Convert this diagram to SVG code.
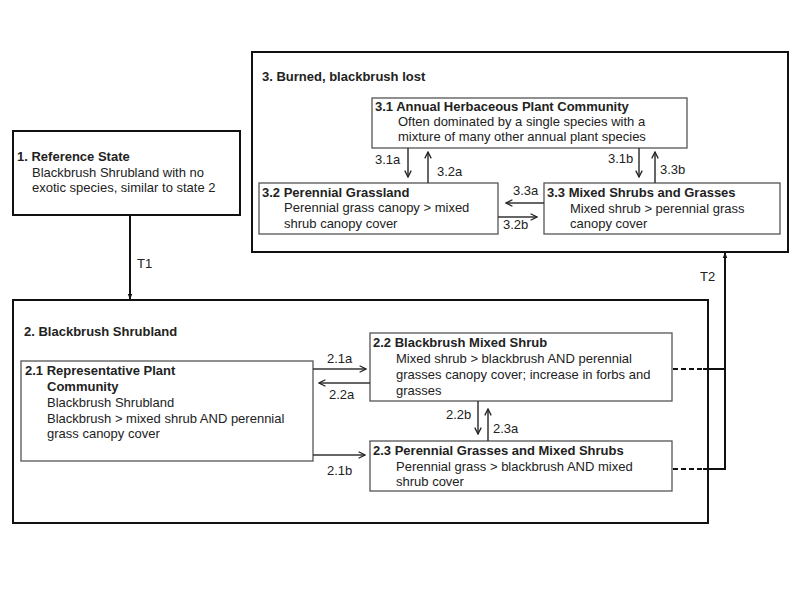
<svg xmlns="http://www.w3.org/2000/svg" width="800" height="600" viewBox="0 0 800 600">
<defs>
<marker id="ah" viewBox="0 0 10 10" refX="9" refY="5" markerWidth="8" markerHeight="8" markerUnits="userSpaceOnUse" orient="auto">
<path d="M1,1 L9,5 L1,9" fill="none" stroke="#222" stroke-width="1.6"/>
</marker>
<marker id="ahs" viewBox="0 0 10 10" refX="9" refY="5" markerWidth="6" markerHeight="6" markerUnits="userSpaceOnUse" orient="auto">
<path d="M0,1 L10,5 L0,9 Z" fill="#111"/>
</marker>
</defs>
<style>
.state{fill:#fff;stroke:#111;stroke-width:2}
.comm{fill:#fff;stroke:#555;stroke-width:1.3}
text{font-family:"Liberation Sans",Arial,sans-serif;font-size:13px;fill:#222}
.b{font-weight:bold}
.c{stroke:#333;stroke-width:1.5;fill:none;marker-end:url(#ah)}
.t{stroke:#111;stroke-width:2;fill:none}
.d{stroke:#111;stroke-width:2;fill:none;stroke-dasharray:5,3}
</style>
<rect width="800" height="600" fill="#fff"/>

<g id="state3">
<rect class="state" x="252" y="52" width="536" height="200"/>
<text class="b" x="262" y="81">3. Burned, blackbrush lost</text>
</g>
<g id="n31">
<rect class="comm" x="372" y="98" width="315" height="50"/>
<text class="b" x="375" y="111">3.1 Annual Herbaceous Plant Community</text>
<text x="398" y="126">Often dominated by a single species with a</text>
<text x="398" y="141">mixture of many other annual plant species</text>
</g>
<g id="n32">
<rect class="comm" x="259" y="183" width="239" height="51"/>
<text class="b" x="262" y="197">3.2 Perennial Grassland</text>
<text x="284" y="212">Perennial grass canopy &gt; mixed</text>
<text x="284" y="228">shrub canopy cover</text>
</g>
<g id="n33">
<rect class="comm" x="544" y="183" width="236" height="51"/>
<text class="b" x="547" y="197">3.3 Mixed Shrubs and Grasses</text>
<text x="570" y="213">Mixed shrub &gt; perennial grass</text>
<text x="570" y="228">canopy cover</text>
</g>

<g id="state1">
<rect class="state" x="13" y="131" width="227" height="84"/>
<text class="b" x="17" y="161">1. Reference State</text>
<text x="32" y="177">Blackbrush Shrubland with no</text>
<text x="32" y="192">exotic species, similar to state 2</text>
</g>

<g id="state2">
<rect class="state" x="13" y="300" width="695" height="223"/>
<text class="b" x="24" y="336">2. Blackbrush Shrubland</text>
</g>
<g id="n21">
<rect class="comm" x="21" y="361" width="292" height="100"/>
<text class="b" x="25" y="375">2.1 Representative Plant</text>
<text class="b" x="47" y="391">Community</text>
<text x="47" y="407">Blackbrush Shrubland</text>
<text x="47" y="423">Blackbrush &gt; mixed shrub AND perennial</text>
<text x="47" y="438">grass canopy cover</text>
</g>
<g id="n22">
<rect class="comm" x="370" y="333" width="302" height="68"/>
<text class="b" x="373" y="347">2.2 Blackbrush Mixed Shrub</text>
<text x="396" y="363">Mixed shrub &gt; blackbrush AND perennial</text>
<text x="396" y="379">grasses canopy cover; increase in forbs and</text>
<text x="396" y="395">grasses</text>
</g>
<g id="n23">
<rect class="comm" x="370" y="441" width="302" height="50"/>
<text class="b" x="373" y="455">2.3 Perennial Grasses and Mixed Shrubs</text>
<text x="396" y="471">Perennial grass &gt; blackbrush AND mixed</text>
<text x="396" y="486">shrub cover</text>
</g>

<g id="connectors">
<line class="c" x1="408" y1="148" x2="408" y2="177"/>
<line class="c" x1="428" y1="183" x2="428" y2="152"/>
<line class="c" x1="639" y1="148" x2="639" y2="177"/>
<line class="c" x1="655" y1="183" x2="655" y2="152"/>
<line class="c" x1="544" y1="203" x2="506" y2="203"/>
<line class="c" x1="498" y1="217" x2="537" y2="217"/>
<line class="c" x1="313" y1="369" x2="366" y2="369"/>
<line class="c" x1="370" y1="383" x2="319" y2="383"/>
<line class="c" x1="313" y1="455" x2="365" y2="455"/>
<line class="c" x1="478" y1="401" x2="478" y2="434"/>
<line class="c" x1="488" y1="441" x2="488" y2="409"/>
<line x1="130" y1="215" x2="130" y2="299" stroke="#111" stroke-width="2" marker-end="url(#ahs)"/>
<line class="d" x1="673" y1="369" x2="703" y2="369"/>
<line class="d" x1="673" y1="469" x2="703" y2="469"/>
<polyline class="t" points="703,369 725,369"/>
<polyline class="t" points="703,469 725,469 725,254"/>
<line x1="725" y1="260" x2="725" y2="253" stroke="#111" stroke-width="2" marker-end="url(#ahs)"/>
<text x="375" y="164">3.1a</text>
<text x="437" y="176">3.2a</text>
<text x="608" y="163">3.1b</text>
<text x="660" y="174">3.3b</text>
<text x="513" y="195">3.3a</text>
<text x="503" y="229">3.2b</text>
<text x="327" y="363">2.1a</text>
<text x="329" y="399">2.2a</text>
<text x="327" y="475">2.1b</text>
<text x="446" y="419">2.2b</text>
<text x="493" y="433">2.3a</text>
<text x="137" y="268">T1</text>
<text x="700" y="281">T2</text>
</g>
</svg>
